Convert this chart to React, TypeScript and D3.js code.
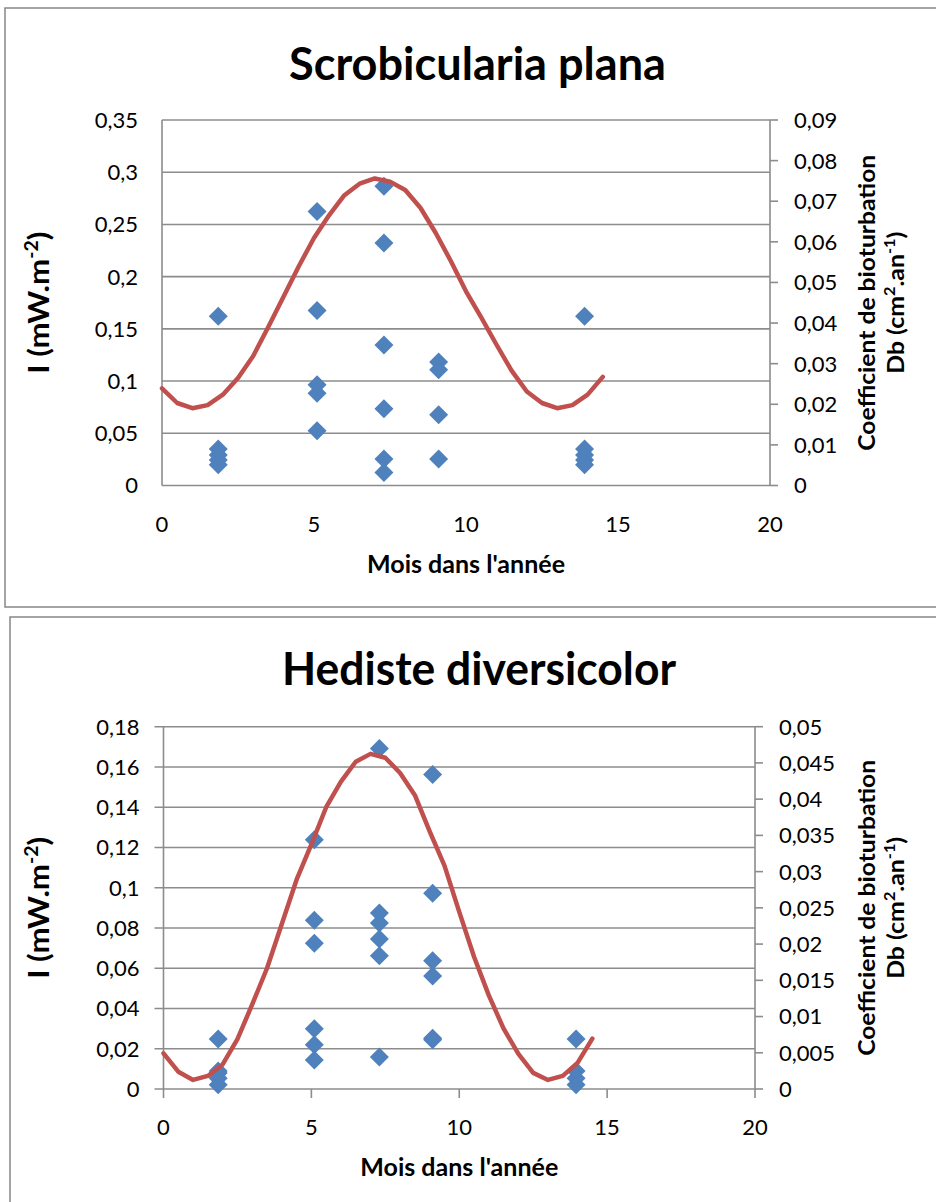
import React from 'react';
import * as d3 from 'd3';

// ---------- DATA ----------
const monthTicks = [0, 5, 10, 15, 20];

const scrobLeftTicks = [0, 0.05, 0.1, 0.15, 0.2, 0.25, 0.3, 0.35];
const scrobLeftLabels = ['0', '0,05', '0,1', '0,15', '0,2', '0,25', '0,3', '0,35'];
const scrobRightTicks = [0, 0.01, 0.02, 0.03, 0.04, 0.05, 0.06, 0.07, 0.08, 0.09];
const scrobRightLabels = ['0', '0,01', '0,02', '0,03', '0,04', '0,05', '0,06', '0,07', '0,08', '0,09'];

const scrobCurveMonths = [0, 0.5, 1, 1.5, 2, 2.5, 3, 3.5, 4, 4.5, 5, 5.5, 6, 6.5, 7, 7.5, 8, 8.5, 9, 9.5, 10, 10.5, 11, 11.5, 12, 12.5, 13, 13.5, 14, 14.5];
const scrobCurveI = [0.093, 0.079, 0.074, 0.077, 0.087, 0.103, 0.124, 0.152, 0.181, 0.21, 0.237, 0.259, 0.278, 0.289, 0.294, 0.291, 0.283, 0.266, 0.242, 0.215, 0.186, 0.161, 0.135, 0.11, 0.09, 0.079, 0.074, 0.077, 0.087, 0.104];

const scrobPointMonths = [1.85, 1.85, 1.85, 1.85, 1.85, 5.1, 5.1, 5.1, 5.1, 5.1, 7.3, 7.3, 7.3, 7.3, 7.3, 7.3, 9.1, 9.1, 9.1, 9.1, 13.9, 13.9, 13.9, 13.9, 13.9];
const scrobPointDb = [0.0417, 0.009, 0.0075, 0.0063, 0.0051, 0.0675, 0.0431, 0.0248, 0.0227, 0.0135, 0.0737, 0.0597, 0.0346, 0.0189, 0.0065, 0.0032, 0.0304, 0.0285, 0.0174, 0.0065, 0.0417, 0.009, 0.0075, 0.0063, 0.0051];

const hedLeftTicks = [0, 0.02, 0.04, 0.06, 0.08, 0.1, 0.12, 0.14, 0.16, 0.18];
const hedLeftLabels = ['0', '0,02', '0,04', '0,06', '0,08', '0,1', '0,12', '0,14', '0,16', '0,18'];
const hedRightTicks = [0, 0.005, 0.01, 0.015, 0.02, 0.025, 0.03, 0.035, 0.04, 0.045, 0.05];
const hedRightLabels = ['0', '0,005', '0,01', '0,015', '0,02', '0,025', '0,03', '0,035', '0,04', '0,045', '0,05'];

const hedCurveMonths = [0, 0.5, 1, 1.5, 2, 2.5, 3, 3.5, 4, 4.5, 5, 5.5, 6, 6.5, 7, 7.5, 8, 8.5, 9, 9.5, 10, 10.5, 11, 11.5, 12, 12.5, 13, 13.5, 14, 14.5];
const hedCurveI = [0.0177, 0.0086, 0.0045, 0.0065, 0.0122, 0.0248, 0.042, 0.06, 0.082, 0.104, 0.1215, 0.14, 0.1527, 0.1626, 0.1665, 0.1646, 0.157, 0.146, 0.128, 0.111, 0.088, 0.0657, 0.0465, 0.03, 0.0175, 0.008, 0.0045, 0.0065, 0.013, 0.025];

const hedPointMonths = [1.85, 1.85, 1.85, 1.85, 1.85, 5.1, 5.1, 5.1, 5.1, 5.1, 5.1, 7.3, 7.3, 7.3, 7.3, 7.3, 7.3, 9.1, 9.1, 9.1, 9.1, 9.1, 9.1, 13.95, 13.95, 13.95, 13.95];
const hedPointDb = [0.0069, 0.0025, 0.0022, 0.0015, 0.0006, 0.0344, 0.0233, 0.0201, 0.0083, 0.0061, 0.004, 0.047, 0.0243, 0.0229, 0.0207, 0.0184, 0.0044, 0.0434, 0.027, 0.0177, 0.0156, 0.007, 0.0068, 0.0069, 0.0025, 0.0015, 0.0006];

// ---------- STYLE ----------
const FONT = 'Lato, "Open Sans", sans-serif';
const GRID = '#8c8c8c';
const BLUE = '#4f81bd';
const RED = '#c0504d';

type ChartProps = {
  title: string;
  titleX: number;
  titleY: number;
  titleLen: number;
  frame: { x: number; y: number; w: number; h: number };
  plot: { left: number; right: number; top: number; bottom: number };
  leftMax: number;
  rightMax: number;
  leftTicks: number[];
  leftLabels: string[];
  rightTicks: number[];
  rightLabels: string[];
  curveX: number[];
  curveY: number[];
  ptX: number[];
  ptY: number[];
  leftTickMarks: boolean;
  xTickMarks: boolean;
};

function Chart(p: ChartProps) {
  const x = d3.scaleLinear().domain([0, 20]).range([p.plot.left, p.plot.right]);
  const yL = d3.scaleLinear().domain([0, p.leftMax]).range([p.plot.bottom, p.plot.top]);
  const yR = d3.scaleLinear().domain([0, p.rightMax]).range([p.plot.bottom, p.plot.top]);
  const line = d3
    .line<number>()
    .x((_, i) => x(p.curveX[i]))
    .y((d) => yL(d));
  const diamond = (cx: number, cy: number) => {
    const r = 9.5;
    return `M${cx},${cy - r}L${cx + r},${cy}L${cx},${cy + r}L${cx - r},${cy}Z`;
  };
  const midY = (p.plot.top + p.plot.bottom) / 2;
  const midX = (p.plot.left + p.plot.right) / 2;
  return (
    <g>
      <rect x={p.frame.x} y={p.frame.y} width={p.frame.w} height={p.frame.h} fill="#fff" stroke="#868686" strokeWidth={1.5} />
      <text x={p.titleX} y={p.titleY} textAnchor="middle" fontFamily={FONT} fontWeight="bold" fontSize={45} fill="#000" textLength={p.titleLen} lengthAdjust="spacingAndGlyphs">
        {p.title}
      </text>
      {/* gridlines */}
      {p.leftTicks.map((t, i) => (
        <line key={'g' + i} x1={p.plot.left - (p.leftTickMarks ? 9 : 0)} x2={p.plot.right} y1={yL(t)} y2={yL(t)} stroke={GRID} strokeWidth={1.6} />
      ))}
      {/* axes */}
      <line x1={p.plot.left} x2={p.plot.left} y1={p.plot.top} y2={p.plot.bottom} stroke={GRID} strokeWidth={1.6} />
      <line x1={p.plot.right} x2={p.plot.right} y1={p.plot.top} y2={p.plot.bottom} stroke={GRID} strokeWidth={1.6} />
      {p.rightTicks.map((t, i) => (
        <line key={'rt' + i} x1={p.plot.right} x2={p.plot.right + 8} y1={yR(t)} y2={yR(t)} stroke={GRID} strokeWidth={1.6} />
      ))}
      {p.xTickMarks &&
        monthTicks.map((t, i) => (
          <line key={'xt' + i} x1={x(t)} x2={x(t)} y1={p.plot.bottom} y2={p.plot.bottom + 9} stroke={GRID} strokeWidth={1.6} />
        ))}
      {/* tick labels */}
      {p.leftTicks.map((t, i) => (
        <text key={'ll' + i} x={p.plot.left - 24} y={yL(t)} dy="0.36em" textAnchor="end" fontFamily={FONT} fontSize={22}>
          {p.leftLabels[i]}
        </text>
      ))}
      {p.rightTicks.map((t, i) => (
        <text key={'rl' + i} x={p.plot.right + 24} y={yR(t)} dy="0.36em" textAnchor="start" fontFamily={FONT} fontSize={22}>
          {p.rightLabels[i]}
        </text>
      ))}
      {monthTicks.map((t, i) => (
        <text key={'xl' + i} x={x(t)} y={p.plot.bottom + 46} textAnchor="middle" fontFamily={FONT} fontSize={22}>
          {String(t)}
        </text>
      ))}
      {/* axis titles */}
      <text x={midX} y={p.plot.bottom + 87} textAnchor="middle" fontFamily={FONT} fontWeight="bold" fontSize={25} textLength={198} lengthAdjust="spacingAndGlyphs">
        Mois dans l'année
      </text>
      <text transform={`translate(${p.frame.x + 44 - (p.frame.x - 5)},${midY}) rotate(-90)`} textAnchor="middle" fontFamily={FONT} fontWeight="bold" fontSize={29} textLength={142} lengthAdjust="spacingAndGlyphs">
        I (mW.m<tspan baselineShift="super" fontSize={18}>-2</tspan>)
      </text>
      <text transform={`translate(875,${midY}) rotate(-90)`} textAnchor="middle" fontFamily={FONT} fontWeight="bold" fontSize={23} textLength={296} lengthAdjust="spacingAndGlyphs">
        Coefficient de bioturbation
      </text>
      <text transform={`translate(904,${midY}) rotate(-90)`} textAnchor="middle" fontFamily={FONT} fontWeight="bold" fontSize={23} textLength={142} lengthAdjust="spacingAndGlyphs">
        Db (cm<tspan baselineShift="super" fontSize={15}>2</tspan>.an<tspan baselineShift="super" fontSize={15}>-1</tspan>)
      </text>
      {/* points */}
      {p.ptX.map((m, i) => (
        <path key={'p' + i} d={diamond(x(m), yR(p.ptY[i]))} fill={BLUE} />
      ))}
      {/* curve */}
      <path d={line(p.curveY) || ''} fill="none" stroke={RED} strokeWidth={4.5} strokeLinejoin="round" strokeLinecap="round" />
    </g>
  );
}

export default function App() {
  return (
    <svg width={936} height={1202} style={{ position: 'absolute', left: 0, top: 0, background: '#fff' }}>
      <rect x={0} y={0} width={936} height={1202} fill="#fff" />
      <Chart
        title="Scrobicularia plana"
        titleX={477.5}
        titleY={80}
        titleLen={377}
        frame={{ x: 5, y: 8, w: 940, h: 599 }}
        plot={{ left: 162, right: 770, top: 120, bottom: 485.5 }}
        leftMax={0.35}
        rightMax={0.09}
        leftTicks={scrobLeftTicks}
        leftLabels={scrobLeftLabels}
        rightTicks={scrobRightTicks}
        rightLabels={scrobRightLabels}
        curveX={scrobCurveMonths}
        curveY={scrobCurveI}
        ptX={scrobPointMonths}
        ptY={scrobPointDb}
        leftTickMarks={false}
        xTickMarks={false}
      />
      <Chart
        title="Hediste diversicolor"
        titleX={479}
        titleY={685}
        titleLen={394}
        frame={{ x: 10, y: 617, w: 940, h: 600 }}
        plot={{ left: 163.5, right: 755, top: 726.7, bottom: 1089 }}
        leftMax={0.18}
        rightMax={0.05}
        leftTicks={hedLeftTicks}
        leftLabels={hedLeftLabels}
        rightTicks={hedRightTicks}
        rightLabels={hedRightLabels}
        curveX={hedCurveMonths}
        curveY={hedCurveI}
        ptX={hedPointMonths}
        ptY={hedPointDb}
        leftTickMarks={true}
        xTickMarks={true}
      />
    </svg>
  );
}
